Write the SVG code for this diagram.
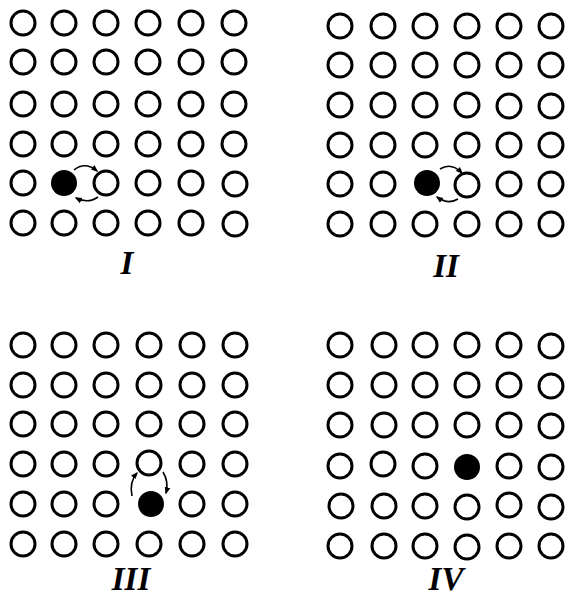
<svg xmlns="http://www.w3.org/2000/svg" width="566" height="597" viewBox="0 0 566 597">
<defs>
<style>
.o{fill:none;stroke:#000;stroke-width:3}
.f{fill:#000}
.a{fill:none;stroke:#000;stroke-width:1.6;marker-end:url(#ah)}
.lb{font-family:"Liberation Serif",serif;font-style:italic;font-weight:bold;font-size:33px;fill:#000;text-anchor:middle}
</style>
<marker id="ah" viewBox="0 0 10 10" refX="8" refY="5" markerWidth="4.5" markerHeight="4.5" orient="auto"><path d="M0,1 L10,5 L0,9 Z" fill="#000"/></marker>
<g id="atom" ><circle class="o" cx="0" cy="0" r="12"/></g>
</defs>
<g id="panel1">
<g id="p1r1"><use href="#atom" x="23" y="23"/><use href="#atom" x="64" y="23"/><use href="#atom" x="106" y="23"/><use href="#atom" x="148" y="23"/><use href="#atom" x="191" y="23"/><use href="#atom" x="234" y="23"/></g>
<g id="p1r2"><use href="#atom" x="23" y="62"/><use href="#atom" x="64" y="62"/><use href="#atom" x="106" y="62"/><use href="#atom" x="148" y="62"/><use href="#atom" x="191" y="62"/><use href="#atom" x="234" y="62"/></g>
<g id="p1r3"><use href="#atom" x="23" y="104"/><use href="#atom" x="64" y="104"/><use href="#atom" x="106" y="104"/><use href="#atom" x="148" y="104"/><use href="#atom" x="191" y="104"/><use href="#atom" x="234" y="104"/></g>
<g id="p1r4"><use href="#atom" x="23" y="144"/><use href="#atom" x="64" y="144"/><use href="#atom" x="106" y="144"/><use href="#atom" x="148" y="144"/><use href="#atom" x="191" y="144"/><use href="#atom" x="234" y="144"/></g>
<g id="p1r5"><use href="#atom" x="23" y="183"/><circle class="f" cx="64" cy="183" r="13"/><use href="#atom" x="106" y="183"/><use href="#atom" x="148" y="183"/><use href="#atom" x="191" y="183"/><use href="#atom" x="235" y="184"/></g>
<g id="p1r6"><use href="#atom" x="23" y="223"/><use href="#atom" x="64" y="223"/><use href="#atom" x="106" y="223"/><use href="#atom" x="148" y="223"/><use href="#atom" x="191" y="223"/><use href="#atom" x="235" y="224"/></g>
<text class="lb" x="127" y="274">I</text>
</g>
<g id="panel2">
<g><use href="#atom" x="340" y="26"/><use href="#atom" x="383" y="26"/><use href="#atom" x="425" y="26"/><use href="#atom" x="467" y="26"/><use href="#atom" x="509" y="26"/><use href="#atom" x="551" y="26"/></g>
<g><use href="#atom" x="340" y="65"/><use href="#atom" x="383" y="65"/><use href="#atom" x="425" y="65"/><use href="#atom" x="467" y="65"/><use href="#atom" x="509" y="65"/><use href="#atom" x="551" y="65"/></g>
<g><use href="#atom" x="340" y="105"/><use href="#atom" x="383" y="105"/><use href="#atom" x="425" y="105"/><use href="#atom" x="467" y="105"/><use href="#atom" x="509" y="106"/><use href="#atom" x="551" y="106"/></g>
<g><use href="#atom" x="340" y="145"/><use href="#atom" x="383" y="145"/><use href="#atom" x="425" y="145"/><use href="#atom" x="467" y="145"/><use href="#atom" x="509" y="145"/><use href="#atom" x="551" y="145"/></g>
<g><use href="#atom" x="340" y="184"/><use href="#atom" x="383" y="184"/><circle class="f" cx="427" cy="183" r="13"/><use href="#atom" x="467" y="185"/><use href="#atom" x="509" y="184"/><use href="#atom" x="551" y="184"/></g>
<g><use href="#atom" x="340" y="224"/><use href="#atom" x="383" y="224"/><use href="#atom" x="425" y="224"/><use href="#atom" x="467" y="224"/><use href="#atom" x="509" y="224"/><use href="#atom" x="551" y="224"/></g>
<text class="lb" x="446" y="277">II</text>
</g>
<g id="panel3">
<g><use href="#atom" x="23" y="345"/><use href="#atom" x="64" y="345"/><use href="#atom" x="106" y="345"/><use href="#atom" x="149" y="345"/><use href="#atom" x="192" y="345"/><use href="#atom" x="235" y="345"/></g>
<g><use href="#atom" x="23" y="385"/><use href="#atom" x="64" y="385"/><use href="#atom" x="106" y="385"/><use href="#atom" x="149" y="385"/><use href="#atom" x="192" y="385"/><use href="#atom" x="235" y="385"/></g>
<g><use href="#atom" x="23" y="424"/><use href="#atom" x="64" y="424"/><use href="#atom" x="106" y="424"/><use href="#atom" x="149" y="424"/><use href="#atom" x="192" y="424"/><use href="#atom" x="235" y="424"/></g>
<g><use href="#atom" x="23" y="464"/><use href="#atom" x="64" y="464"/><use href="#atom" x="106" y="464"/><use href="#atom" x="149" y="463"/><use href="#atom" x="192" y="464"/><use href="#atom" x="235" y="464"/></g>
<g><use href="#atom" x="23" y="504"/><use href="#atom" x="64" y="504"/><use href="#atom" x="106" y="504"/><circle class="f" cx="151" cy="504" r="13"/><use href="#atom" x="192" y="504"/><use href="#atom" x="235" y="504"/></g>
<g><use href="#atom" x="23" y="544"/><use href="#atom" x="64" y="544"/><use href="#atom" x="106" y="544"/><use href="#atom" x="149" y="544"/><use href="#atom" x="192" y="544"/><use href="#atom" x="235" y="544"/></g>
<text class="lb" x="131" y="590">III</text>
</g>
<g id="panel4">
<g><use href="#atom" x="340" y="345"/><use href="#atom" x="384" y="345"/><use href="#atom" x="425" y="345"/><use href="#atom" x="467" y="345"/><use href="#atom" x="509" y="345"/><use href="#atom" x="551" y="346"/></g>
<g><use href="#atom" x="340" y="385"/><use href="#atom" x="384" y="385"/><use href="#atom" x="425" y="385"/><use href="#atom" x="467" y="385"/><use href="#atom" x="509" y="385"/><use href="#atom" x="551" y="386"/></g>
<g><use href="#atom" x="340" y="425"/><use href="#atom" x="384" y="425"/><use href="#atom" x="425" y="425"/><use href="#atom" x="467" y="425"/><use href="#atom" x="509" y="425"/><use href="#atom" x="551" y="426"/></g>
<g><use href="#atom" x="340" y="466"/><use href="#atom" x="383" y="464"/><use href="#atom" x="425" y="466"/><circle class="f" cx="467" cy="467" r="13"/><use href="#atom" x="509" y="466"/><use href="#atom" x="551" y="467"/></g>
<g><use href="#atom" x="341" y="506"/><use href="#atom" x="384" y="506"/><use href="#atom" x="425" y="506"/><use href="#atom" x="467" y="507"/><use href="#atom" x="509" y="505"/><use href="#atom" x="551" y="507"/></g>
<g><use href="#atom" x="340" y="546"/><use href="#atom" x="384" y="546"/><use href="#atom" x="425" y="546"/><use href="#atom" x="467" y="547"/><use href="#atom" x="509" y="546"/><use href="#atom" x="551" y="546"/></g>
<text class="lb" x="446" y="590">IV</text>
</g>
<g id="connectors">
<path class="a" d="M74,170 Q85,161 97,171"/>
<path class="a" d="M98,197 Q88,204 76,198"/>
<path class="a" d="M440,169 Q451,162 462,173"/>
<path class="a" d="M458,199 Q448,205 437,197"/>
<path class="a" d="M132,496 Q129,482 137,473"/>
<path class="a" d="M163,472 Q169,482 166,493"/>
</g>
</svg>
